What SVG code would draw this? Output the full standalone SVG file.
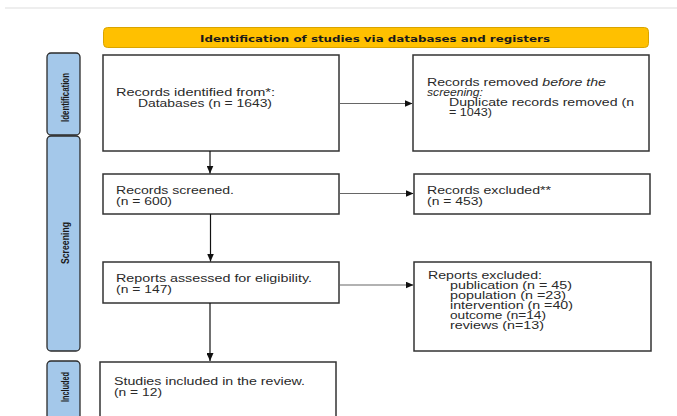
<svg xmlns="http://www.w3.org/2000/svg" width="677" height="416" viewBox="0 0 677 416">
<style>
.box{fill:#fff;stroke:#333;stroke-width:1.5}
.side{fill:#a4c8ea;stroke:#2b2b2b;stroke-width:1.3}
.t{font-family:"Liberation Sans",Arial,sans-serif;font-size:10px;fill:#2a2a2a}
.st{font-family:"Liberation Sans",Arial,sans-serif;font-size:11px;font-weight:bold;fill:#1a1a1a}
.hd{font-family:"DejaVu Sans","Liberation Sans",sans-serif;font-size:9.5px;font-weight:bold;fill:#1a1a1a}
.c{stroke:#666;stroke-width:1.2;fill:none}
.cv{stroke:#111;stroke-width:1.2;fill:none}
</style>
<defs>
<marker id="ah" markerWidth="8" markerHeight="7" refX="8" refY="3.5" orient="auto" markerUnits="userSpaceOnUse">
<path d="M0,0 L8,3.5 L0,7 z" fill="#111"/>
</marker>
</defs>
<rect x="5" y="7" width="672" height="2" fill="#eeeeee"/>

<g id="header">
<rect x="103.5" y="27.5" width="545" height="20" rx="4" fill="#ffc000" stroke="#d9a400" stroke-width="1"/>
<text class="hd" x="200" y="41.5" textLength="350" lengthAdjust="spacingAndGlyphs">Identification of studies via databases and registers</text>
</g>

<g id="side-identification">
<rect class="side" x="47" y="53" width="33" height="82" rx="4"/>
<text class="st" transform="translate(69,122) rotate(-90)" textLength="49" lengthAdjust="spacingAndGlyphs">Identification</text>
</g>
<g id="side-screening">
<rect class="side" x="47" y="136" width="33" height="215" rx="4"/>
<text class="st" transform="translate(69,264) rotate(-90)" textLength="42" lengthAdjust="spacingAndGlyphs">Screening</text>
</g>
<g id="side-included">
<rect class="side" x="47" y="361" width="33" height="64" rx="4"/>
<text class="st" transform="translate(69,402) rotate(-90)" textLength="30" lengthAdjust="spacingAndGlyphs">Included</text>
</g>

<g id="identified">
<rect class="box" x="103" y="55" width="236" height="96"/>
<text class="t" x="116" y="95.5" textLength="159" lengthAdjust="spacingAndGlyphs">Records identified from*:</text>
<text class="t" x="138" y="106.5" textLength="134" lengthAdjust="spacingAndGlyphs">Databases (n = 1643)</text>
</g>

<g id="removed">
<rect class="box" x="413" y="55" width="236" height="96"/>
<text class="t" x="427" y="85.5" textLength="179" lengthAdjust="spacingAndGlyphs">Records removed <tspan font-style="italic">before the</tspan></text>
<text class="t" x="427" y="95.5" font-style="italic" textLength="56" lengthAdjust="spacingAndGlyphs">screening:</text>
<text class="t" x="449" y="105.5" textLength="185" lengthAdjust="spacingAndGlyphs">Duplicate records removed (n</text>
<text class="t" x="449" y="115.5" textLength="43" lengthAdjust="spacingAndGlyphs">= 1043)</text>
</g>

<g id="screened">
<rect class="box" x="103" y="174" width="236" height="40"/>
<text class="t" x="116" y="193.5" textLength="118" lengthAdjust="spacingAndGlyphs">Records screened.</text>
<text class="t" x="116" y="204.5" textLength="56" lengthAdjust="spacingAndGlyphs">(n = 600)</text>
</g>

<g id="excluded">
<rect class="box" x="414" y="174" width="236" height="40"/>
<text class="t" x="427" y="193.5" textLength="124" lengthAdjust="spacingAndGlyphs">Records excluded**</text>
<text class="t" x="427" y="204.5" textLength="56" lengthAdjust="spacingAndGlyphs">(n = 453)</text>
</g>

<g id="assessed">
<rect class="box" x="103" y="262" width="236" height="41"/>
<text class="t" x="116" y="281.5" textLength="196" lengthAdjust="spacingAndGlyphs">Reports assessed for eligibility.</text>
<text class="t" x="116" y="292.5" textLength="56" lengthAdjust="spacingAndGlyphs">(n = 147)</text>
</g>

<g id="reports-excluded">
<rect class="box" x="414" y="262" width="237" height="89"/>
<text class="t" x="428" y="278.5" textLength="114" lengthAdjust="spacingAndGlyphs">Reports excluded:</text>
<text class="t" x="450" y="288.8" textLength="122" lengthAdjust="spacingAndGlyphs">publication (n = 45)</text>
<text class="t" x="450" y="298.8" textLength="116" lengthAdjust="spacingAndGlyphs">population (n =23)</text>
<text class="t" x="450" y="308.8" textLength="123" lengthAdjust="spacingAndGlyphs">intervention (n =40)</text>
<text class="t" x="450" y="318.8" textLength="96" lengthAdjust="spacingAndGlyphs">outcome (n=14)</text>
<text class="t" x="450" y="328.8" textLength="94" lengthAdjust="spacingAndGlyphs">reviews (n=13)</text>
</g>

<g id="included">
<rect class="box" x="100" y="362" width="236" height="70"/>
<text class="t" x="114" y="384.5" textLength="191" lengthAdjust="spacingAndGlyphs">Studies included in the review.</text>
<text class="t" x="114" y="395.5" textLength="48" lengthAdjust="spacingAndGlyphs">(n = 12)</text>
</g>

<g id="connectors">
<line class="c" x1="339.5" y1="103.5" x2="412.5" y2="103.5" marker-end="url(#ah)"/>
<line class="c" x1="339.5" y1="193.5" x2="413.5" y2="193.5" marker-end="url(#ah)"/>
<line class="c" x1="339.5" y1="285" x2="413.5" y2="285" marker-end="url(#ah)"/>
<line class="cv" x1="210" y1="151" x2="210" y2="173.5" marker-end="url(#ah)"/>
<line class="cv" x1="210.5" y1="214" x2="210.5" y2="261.5" marker-end="url(#ah)"/>
<line class="cv" x1="210" y1="303" x2="210" y2="361" marker-end="url(#ah)"/>
</g>
</svg>
